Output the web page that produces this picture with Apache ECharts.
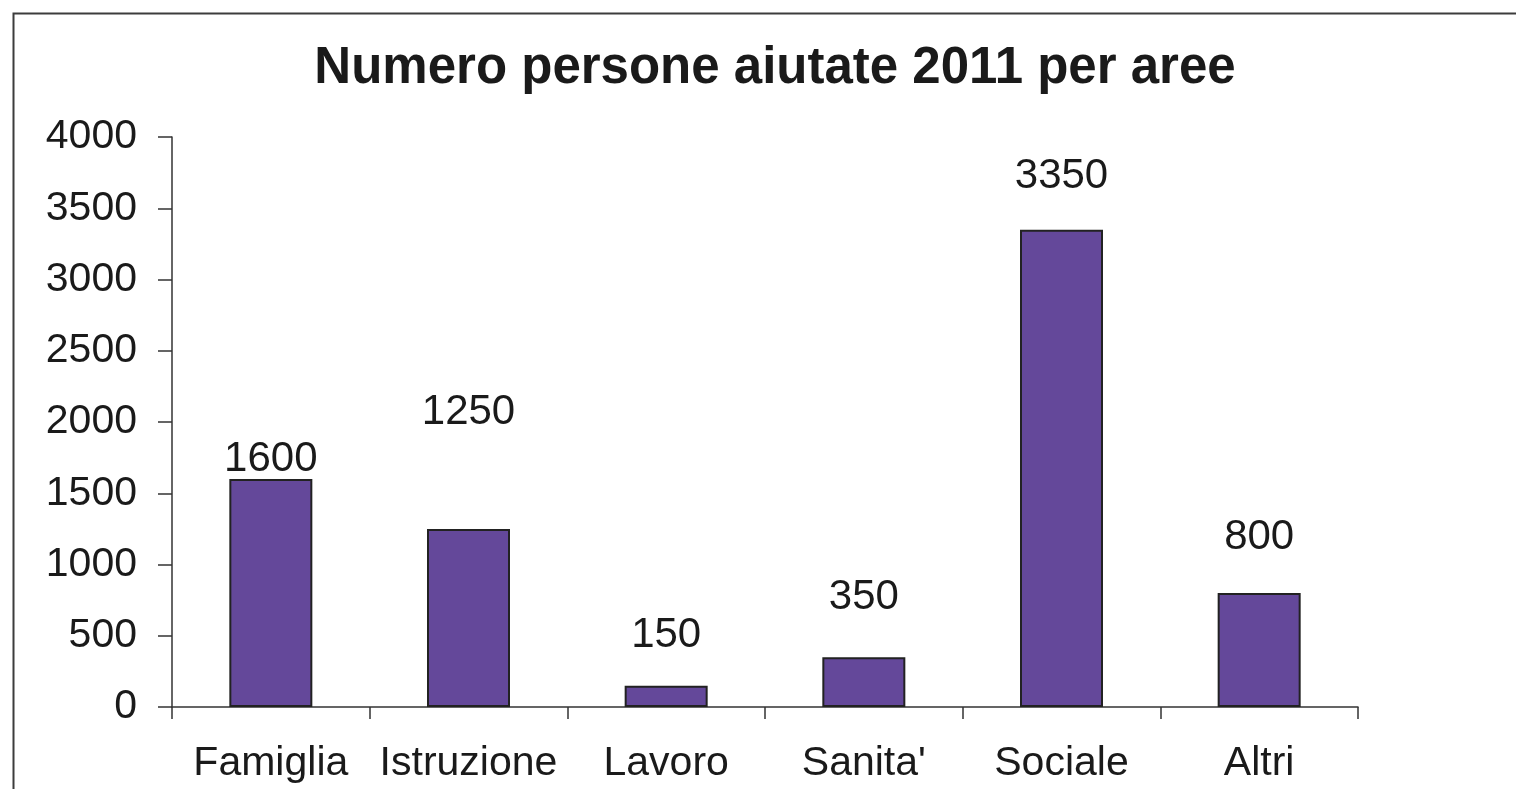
<!DOCTYPE html>
<html>
<head>
<meta charset="utf-8">
<script src="https://cdn.jsdelivr.net/npm/echarts@6/dist/echarts.min.js"></script>
<style>
html,body{margin:0;padding:0;background:#fff;}
#chart{width:1516px;height:789px;}
</style>
</head>
<body>
<div id="chart"></div>
<script>
const titleText = "Numero persone aiutate 2011 per aree";
const categories = ["Famiglia", "Istruzione", "Lavoro", "Sanita'", "Sociale", "Altri"];
const values = [1600, 1250, 150, 350, 3350, 800];
const yTicks = [0, 500, 1000, 1500, 2000, 2500, 3000, 3500, 4000];

// label placement (style only): pixels from bar top to label centre
const labelLift = [20, 116, 50, 60, 53, 56];

const chart = echarts.init(document.getElementById('chart'));
const FONT = '"Liberation Sans", Arial, sans-serif';
const AX = '#333333';

chart.setOption({
  backgroundColor: '#ffffff',
  animation: false,
  title: {
    text: titleText,
    left: 770,
    textAlign: 'center',
    top: 38,
    textStyle: { fontFamily: FONT, fontSize: 51, fontWeight: 'bold', color: '#1a1a1a' }
  },
  graphic: [{
    type: 'rect',
    left: 11, top: 11,
    shape: { width: 1600, height: 900 },
    style: { fill: 'none', stroke: '#3c3c3c', lineWidth: 2 },
    silent: true
  }],
  grid: { left: 172, right: 158, top: 137, bottom: 82, containLabel: false },
  xAxis: {
    type: 'category',
    data: categories,
    axisLine: { show: true, lineStyle: { color: AX, width: 1.5 } },
    axisTick: { show: true, alignWithLabel: false, length: 12, lineStyle: { color: AX, width: 1.5 } },
    axisLabel: { margin: 36, fontFamily: FONT, fontSize: 41, color: '#1a1a1a', interval: 0 },
    splitLine: { show: false }
  },
  yAxis: {
    type: 'value',
    min: yTicks[0],
    max: yTicks[yTicks.length - 1],
    interval: yTicks[1] - yTicks[0],
    axisLine: { show: true, lineStyle: { color: AX, width: 1.5 } },
    axisTick: { show: true, length: 14, lineStyle: { color: AX, width: 1.5 } },
    axisLabel: { margin: 35, fontFamily: FONT, fontSize: 41, color: '#1a1a1a', formatter: v => String(v) },
    splitLine: { show: false }
  },
  series: [{
    type: 'bar',
    barWidth: 83,
    data: values.map((v, i) => ({
      value: v,
      label: { offset: [0, -labelLift[i]] }
    })),
    itemStyle: { color: '#64489a', borderColor: '#222222', borderWidth: 2 },
    label: {
      show: true,
      position: 'top',
      distance: 0,
      verticalAlign: 'middle',
      fontFamily: FONT,
      fontSize: 42,
      color: '#1a1a1a'
    }
  }]
});
</script>
</body>
</html>
